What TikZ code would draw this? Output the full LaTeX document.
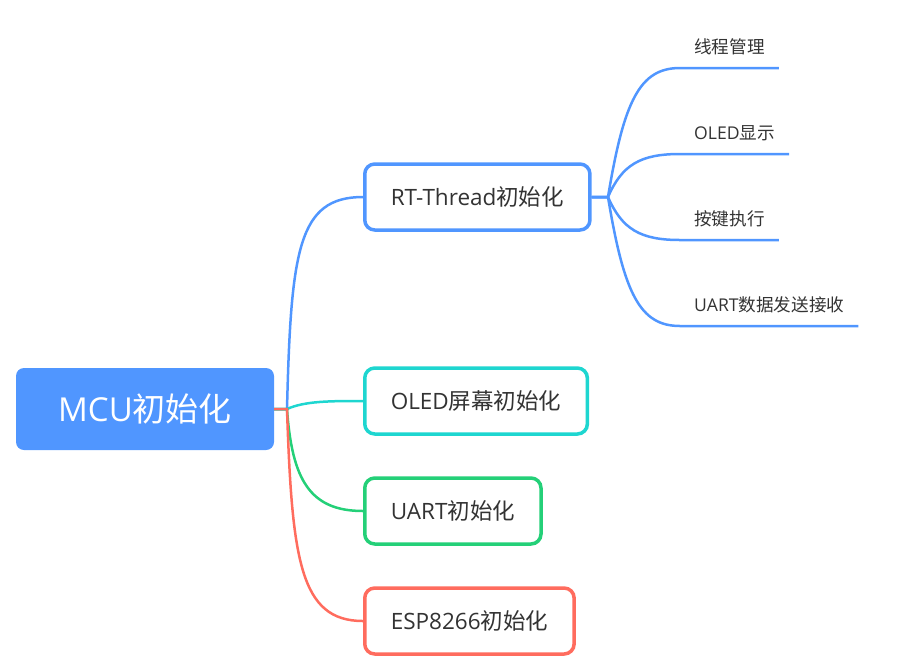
\documentclass[tikz,border=0pt]{standalone}
\usepackage{fontspec}
\setmainfont{Open Sans}
\newfontfamily\cjk{Noto Sans CJK SC}
\definecolor{mindblue}{RGB}{80,150,255}
\definecolor{mindcyan}{RGB}{30,214,208}
\definecolor{mindgreen}{RGB}{36,208,120}
\definecolor{mindred}{RGB}{255,108,94}
\definecolor{mindtext}{RGB}{51,51,51}
\begin{document}
\begin{tikzpicture}[
		x=1pt, y=-1pt,
		topic/.style={rectangle, rounded corners=10pt, line width=3.5pt, fill=white, text=mindtext,
			minimum height=66pt, inner xsep=26pt, font=\fontsize{22.5}{26}\selectfont, anchor=west},
		leaf/.style={inner xsep=14pt, inner ysep=13pt, text=mindtext, font=\fontsize{17.6}{20}\selectfont, anchor=south west},
		branch/.style={line width=2.5pt}
	]
		\useasboundingbox (0,0) rectangle (904,670);
		% Root
		\node[rectangle, rounded corners=8pt, fill=mindblue, text=white, minimum width=258pt, minimum height=82pt,
			font=\fontsize{33}{38}\selectfont] (mcu) at (145,409) {MCU\cjk 初始化};
		
		% Main topics
		\node[topic, draw=mindblue] (rt) at (363,197) {RT-Thread\cjk 初始化};
		\node[topic, draw=mindcyan] (oled) at (363,401) {OLED\cjk 屏幕初始化};
		\node[topic, draw=mindgreen] (uart) at (363,511) {UART\cjk 初始化};
		\node[topic, draw=mindred] (esp) at (363,621) {ESP8266\cjk 初始化};
		
		% Subtopics of RT-Thread
		\node[leaf] (l1) at (680,68) {\cjk 线程管理};
		\node[leaf] (l2) at (680,154) {OLED\cjk 显示};
		\node[leaf] (l3) at (680,240) {\cjk 按键执行};
		\node[leaf] (l4) at (680,326) {UART\cjk 数据发送接收};
		
		% Branches from root
		\draw[branch, mindblue] (mcu.east) -- (287,409) .. controls (291,250) and (298,197) .. (rt.west);
		\draw[branch, mindcyan] (mcu.east) -- (287,409) .. controls (305,401) and (330,401) .. (oled.west);
		\draw[branch, mindgreen] (mcu.east) -- (287,409) .. controls (292,480) and (310,511) .. (uart.west);
		\draw[branch, mindred] (mcu.east) -- (287,409) .. controls (292,560) and (300,621) .. (esp.west);
		
		% Branches to subtopics
		\draw[branch, mindblue] (rt.east) -- (608,197) .. controls (624,100) and (640,68) .. (l1.south west) -- (l1.south east);
		\draw[branch, mindblue] (rt.east) -- (608,197) .. controls (622,165) and (640,154) .. (l2.south west) -- (l2.south east);
		\draw[branch, mindblue] (rt.east) -- (608,197) .. controls (622,229) and (640,240) .. (l3.south west) -- (l3.south east);
		\draw[branch, mindblue] (rt.east) -- (608,197) .. controls (624,294) and (640,326) .. (l4.south west) -- (l4.south east);
	\end{tikzpicture}
\end{document}
